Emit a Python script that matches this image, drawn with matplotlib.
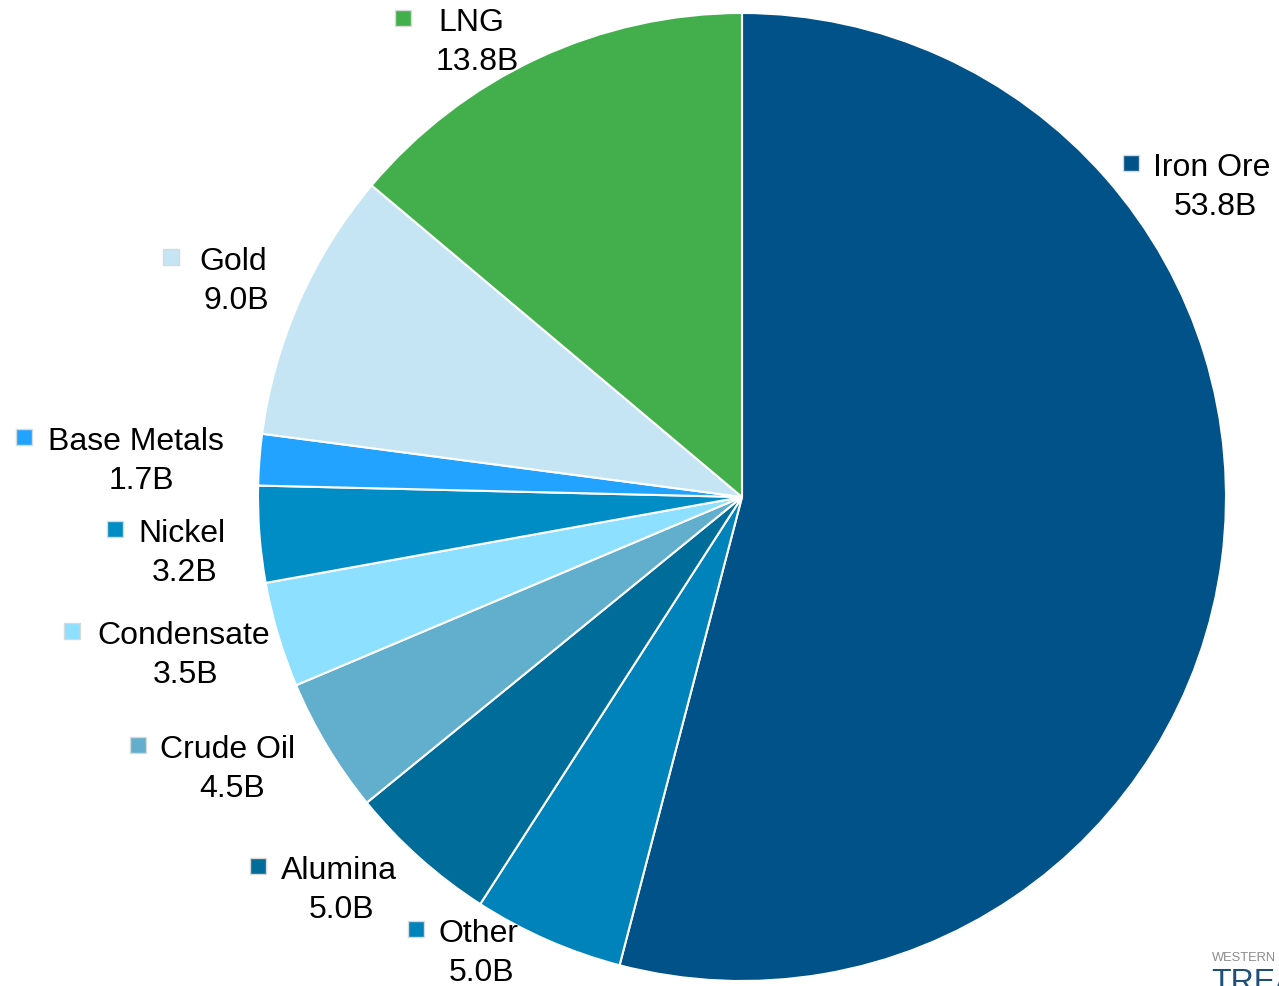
import matplotlib.pyplot as plt

# WA commodity exports, clockwise from 12 o'clock
commodities = ["Iron Ore", "Other", "Alumina", "Crude Oil", "Condensate",
               "Nickel", "Base Metals", "Gold", "LNG"]
values = [53.8, 5.0, 5.0, 4.5, 3.5, 3.2, 1.7, 9.0, 13.8]
colours = ["#005288", "#0082BA", "#006C9A", "#62AECD", "#8DE0FF",
           "#008CC4", "#22A3FF", "#C5E5F4", "#42AF4C"]

# label layout in pixels: (marker x, name left x, line y, value centre x)
label_pos = {
    "Iron Ore": (1131, 1153, 165, 1215),
    "Other": (416, 439, 931, 482),
    "Alumina": (258, 281, 868, 342),
    "Crude Oil": (138, 160, 747, 232),
    "Condensate": (72, 97, 633, 186),
    "Nickel": (115, 138, 531, 185),
    "Base Metals": (24, 48, 439, 141),
    "Gold": (171, 199, 259, 236),
    "LNG": (403, 438, 20, 477),
}

W, H = 1279, 987
fig = plt.figure(figsize=(12.79, 9.87), dpi=100)
ax = fig.add_axes([0, 0, 1, 1])

ax.pie(values, colors=colours, startangle=90, counterclock=False,
       center=(742, H - 498), radius=484, frame=True,
       wedgeprops=dict(edgecolor="white", linewidth=1.5))
ax.set_xlim(0, W)
ax.set_ylim(0, H)
ax.set_aspect("equal")
ax.axis("off")

font = "Liberation Sans"
for name, val, col in zip(commodities, values, colours):
    mx, nx, py, vx = label_pos[name]
    y = H - py
    ax.plot(mx, y + 1, marker="s", markersize=11, color=col,
            markeredgecolor="#d9d9d9", markeredgewidth=1)
    ax.text(nx, y - 3, name, ha="left", va="center", fontsize=23, family=font)
    ax.text(vx, y - 42, f"{val:.1f}B", ha="center", va="center",
            fontsize=23, family=font)

# logo in the corner, cut by the edge as in the source image
ax.text(1212, H - 958, "WESTERN", ha="left", va="center", fontsize=9.3,
        color="#8c8c8c", family=font)
ax.text(1211, H - 968, "TREASURY", ha="left", va="top", fontsize=23,
        color="#1f4e79", family=font)

fig.savefig("out.png", dpi=100)
